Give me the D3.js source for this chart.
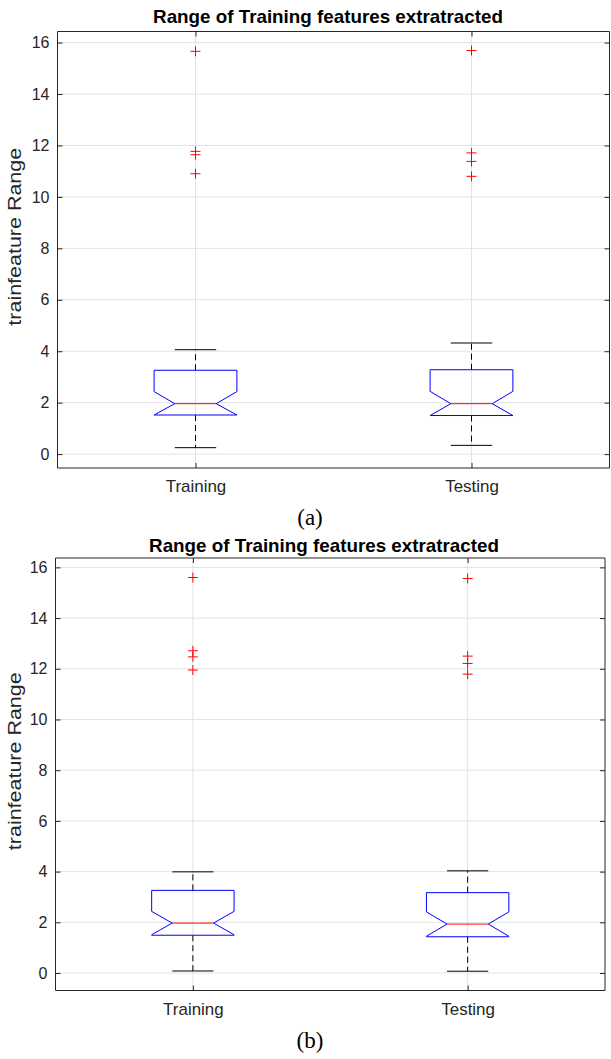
<!DOCTYPE html>
<html>
<head>
<meta charset="utf-8">
<title>Range of Training features</title>
<script src="https://d3js.org/d3.v7.min.js"></script>
<style>
  body { margin: 0; background: #fff; }
  svg { display: block; }
</style>
</head>
<body>
<script>
// data
var categories = ["Training", "Testing"];
var yTicks = [0, 2, 4, 6, 8, 10, 12, 14, 16];

// panel (a)
var aLowerWhisker = [0.25, 0.34];
var aQ1 = [1.52, 1.50];
var aMedian = [1.96, 1.96];
var aNotchHigh = [2.43, 2.44];
var aQ3 = [3.26, 3.28];
var aUpperWhisker = [4.06, 4.32];
var aOutliers = [[15.66, 11.77, 11.64, 10.90], [15.69, 11.71, 11.38, 10.80]];

// panel (b)
var bLowerWhisker = [0.08, 0.07];
var bQ1 = [1.49, 1.43];
var bMedian = [1.97, 1.93];
var bNotchHigh = [2.43, 2.41];
var bQ3 = [3.26, 3.17];
var bUpperWhisker = [3.99, 4.03];
var bOutliers = [[15.60, 12.71, 12.47, 11.95], [15.56, 12.50, 12.21, 11.79]];

var w = 611, h = 1059;
var axisColor = "#262626";
var gridColor = "#e3e3e3";
var sans = "Liberation Sans, Arial, sans-serif";

var svg = d3.select("body").append("svg")
    .attr("width", w)
    .attr("height", h);

function drawPanel(p) {
    var g = svg.append("g");

    var x = d3.scaleLinear().domain([0.5, 2.5]).range([p.left, p.right]);
    var y = d3.scaleLinear().domain(p.yDomain).range([p.bottom, p.top]);

    // grid
    g.selectAll(".hgrid").data(yTicks).enter().append("line")
        .attr("x1", p.left).attr("x2", p.right)
        .attr("y1", function(d) { return y(d); })
        .attr("y2", function(d) { return y(d); })
        .attr("stroke", gridColor).attr("stroke-width", 1);
    g.selectAll(".vgrid").data(categories).enter().append("line")
        .attr("x1", function(d, i) { return x(i + 1); })
        .attr("x2", function(d, i) { return x(i + 1); })
        .attr("y1", p.top).attr("y2", p.bottom)
        .attr("stroke", gridColor).attr("stroke-width", 1);

    // boxes
    var idx = d3.range(categories.length);
    var halfBox = x(1.15) - x(1);
    var halfCap = x(1.075) - x(1);
    var halfNotch = halfBox / 2;

    idx.forEach(function(i) {
        var cx = x(i + 1);
        var notchLow = Math.max(p.q1[i], p.median[i] - (p.notchHigh[i] - p.median[i]));

        // whiskers (dashed)
        g.append("line")
            .attr("x1", cx).attr("x2", cx)
            .attr("y1", y(p.q3[i])).attr("y2", y(p.upper[i]))
            .attr("stroke", "#000").attr("stroke-dasharray", "6,4");
        g.append("line")
            .attr("x1", cx).attr("x2", cx)
            .attr("y1", y(p.q1[i])).attr("y2", y(p.lower[i]))
            .attr("stroke", "#000").attr("stroke-dasharray", "6,4");
        // caps
        [p.upper[i], p.lower[i]].forEach(function(v) {
            g.append("line")
                .attr("x1", cx - halfCap).attr("x2", cx + halfCap)
                .attr("y1", y(v)).attr("y2", y(v))
                .attr("stroke", "#000");
        });

        // notched box
        var pts = [
            [cx - halfBox, y(p.q3[i])],
            [cx + halfBox, y(p.q3[i])],
            [cx + halfBox, y(p.notchHigh[i])],
            [cx + halfNotch, y(p.median[i])],
            [cx + halfBox, y(notchLow)],
            [cx + halfBox, y(p.q1[i])],
            [cx - halfBox, y(p.q1[i])],
            [cx - halfBox, y(notchLow)],
            [cx - halfNotch, y(p.median[i])],
            [cx - halfBox, y(p.notchHigh[i])]
        ];
        g.append("path")
            .attr("d", d3.line()(pts) + "Z")
            .attr("fill", "none")
            .attr("stroke", "#0000ff")
            .attr("stroke-width", 1);

        // median
        g.append("line")
            .attr("x1", cx - halfNotch).attr("x2", cx + halfNotch)
            .attr("y1", y(p.median[i])).attr("y2", y(p.median[i]))
            .attr("stroke", "#ff0000").attr("stroke-width", 1);

        // outliers
        g.selectAll(".out" + i).data(p.outliers[i]).enter().append("path")
            .attr("d", function(d) {
                var py = y(d);
                return "M" + (cx - 5) + "," + py + "H" + (cx + 5) +
                       "M" + cx + "," + (py - 5) + "V" + (py + 5);
            })
            .attr("stroke", "#ff0000").attr("stroke-width", 1).attr("fill", "none");
    });

    // axes
    var yAxis = g.append("g")
        .attr("transform", "translate(" + p.left + ",0)")
        .call(d3.axisLeft(y).tickValues(yTicks).tickSize(-5).tickPadding(8).tickFormat(d3.format("d")));
    var yAxisR = g.append("g")
        .attr("transform", "translate(" + p.right + ",0)")
        .call(d3.axisRight(y).tickValues(yTicks).tickSize(-5).tickFormat(""));
    var xAxis = g.append("g")
        .attr("transform", "translate(0," + p.bottom + ")")
        .call(d3.axisBottom(x).tickValues([1, 2]).tickSize(-5).tickPadding(13)
            .tickFormat(function(d) { return categories[d - 1]; }));
    var xAxisT = g.append("g")
        .attr("transform", "translate(0," + p.top + ")")
        .call(d3.axisTop(x).tickValues([1, 2]).tickSize(-5).tickFormat(""));

    [yAxis, yAxisR, xAxis, xAxisT].forEach(function(a) {
        a.select(".domain").attr("stroke", axisColor).attr("stroke-width", 1);
        a.selectAll(".tick line").attr("stroke", axisColor);
        a.selectAll(".tick text")
            .attr("fill", axisColor)
            .attr("font-family", sans)
            .attr("font-size", 16);
    });
    // category labels are a little wider in the reference
    xAxis.selectAll(".tick text").attr("transform", "scale(1.06,1)");
    // keep the domain a plain rectangle (no outer ticks)
    yAxis.select(".domain").attr("d", "M0," + p.top + "V" + p.bottom);
    yAxisR.select(".domain").attr("d", "M0," + p.top + "V" + p.bottom);
    xAxis.select(".domain").attr("d", "M" + p.left + ",0H" + p.right);
    xAxisT.select(".domain").attr("d", "M" + p.left + ",0H" + p.right);

    // title
    g.append("text")
        .attr("transform", "translate(" + p.titleX + "," + p.titleY + ") scale(1.045,1)")
        .attr("text-anchor", "middle")
        .attr("font-family", sans)
        .attr("font-weight", "bold")
        .attr("font-size", 18)
        .attr("fill", "#000")
        .text("Range of Training features extratracted");

    // y label
    g.append("text")
        .attr("transform", "translate(21," + ((p.top + p.bottom) / 2 - 13) + ") rotate(-90) scale(1.22,1)")
        .attr("text-anchor", "middle")
        .attr("font-family", sans)
        .attr("font-size", 17.6)
        .attr("fill", axisColor)
        .text("trainfeature Range");

    // caption
    g.append("text")
        .attr("x", 310).attr("y", p.captionY)
        .attr("text-anchor", "middle")
        .attr("font-family", "Liberation Serif, Times New Roman, serif")
        .attr("font-size", 23)
        .attr("fill", "#000")
        .text(p.caption);
}

drawPanel({
    left: 57.5, right: 609.5, top: 31.5, bottom: 468,
    yDomain: [-0.54, 16.43],
    lower: aLowerWhisker, q1: aQ1, median: aMedian, notchHigh: aNotchHigh,
    q3: aQ3, upper: aUpperWhisker, outliers: aOutliers,
    titleX: 328, titleY: 22.5, captionY: 525, caption: "(a)"
});

drawPanel({
    left: 55.5, right: 605, top: 558, bottom: 990.5,
    yDomain: [-0.69, 16.37],
    lower: bLowerWhisker, q1: bQ1, median: bMedian, notchHigh: bNotchHigh,
    q3: bQ3, upper: bUpperWhisker, outliers: bOutliers,
    titleX: 324, titleY: 551.5, captionY: 1048, caption: "(b)"
});
</script>
</body>
</html>
